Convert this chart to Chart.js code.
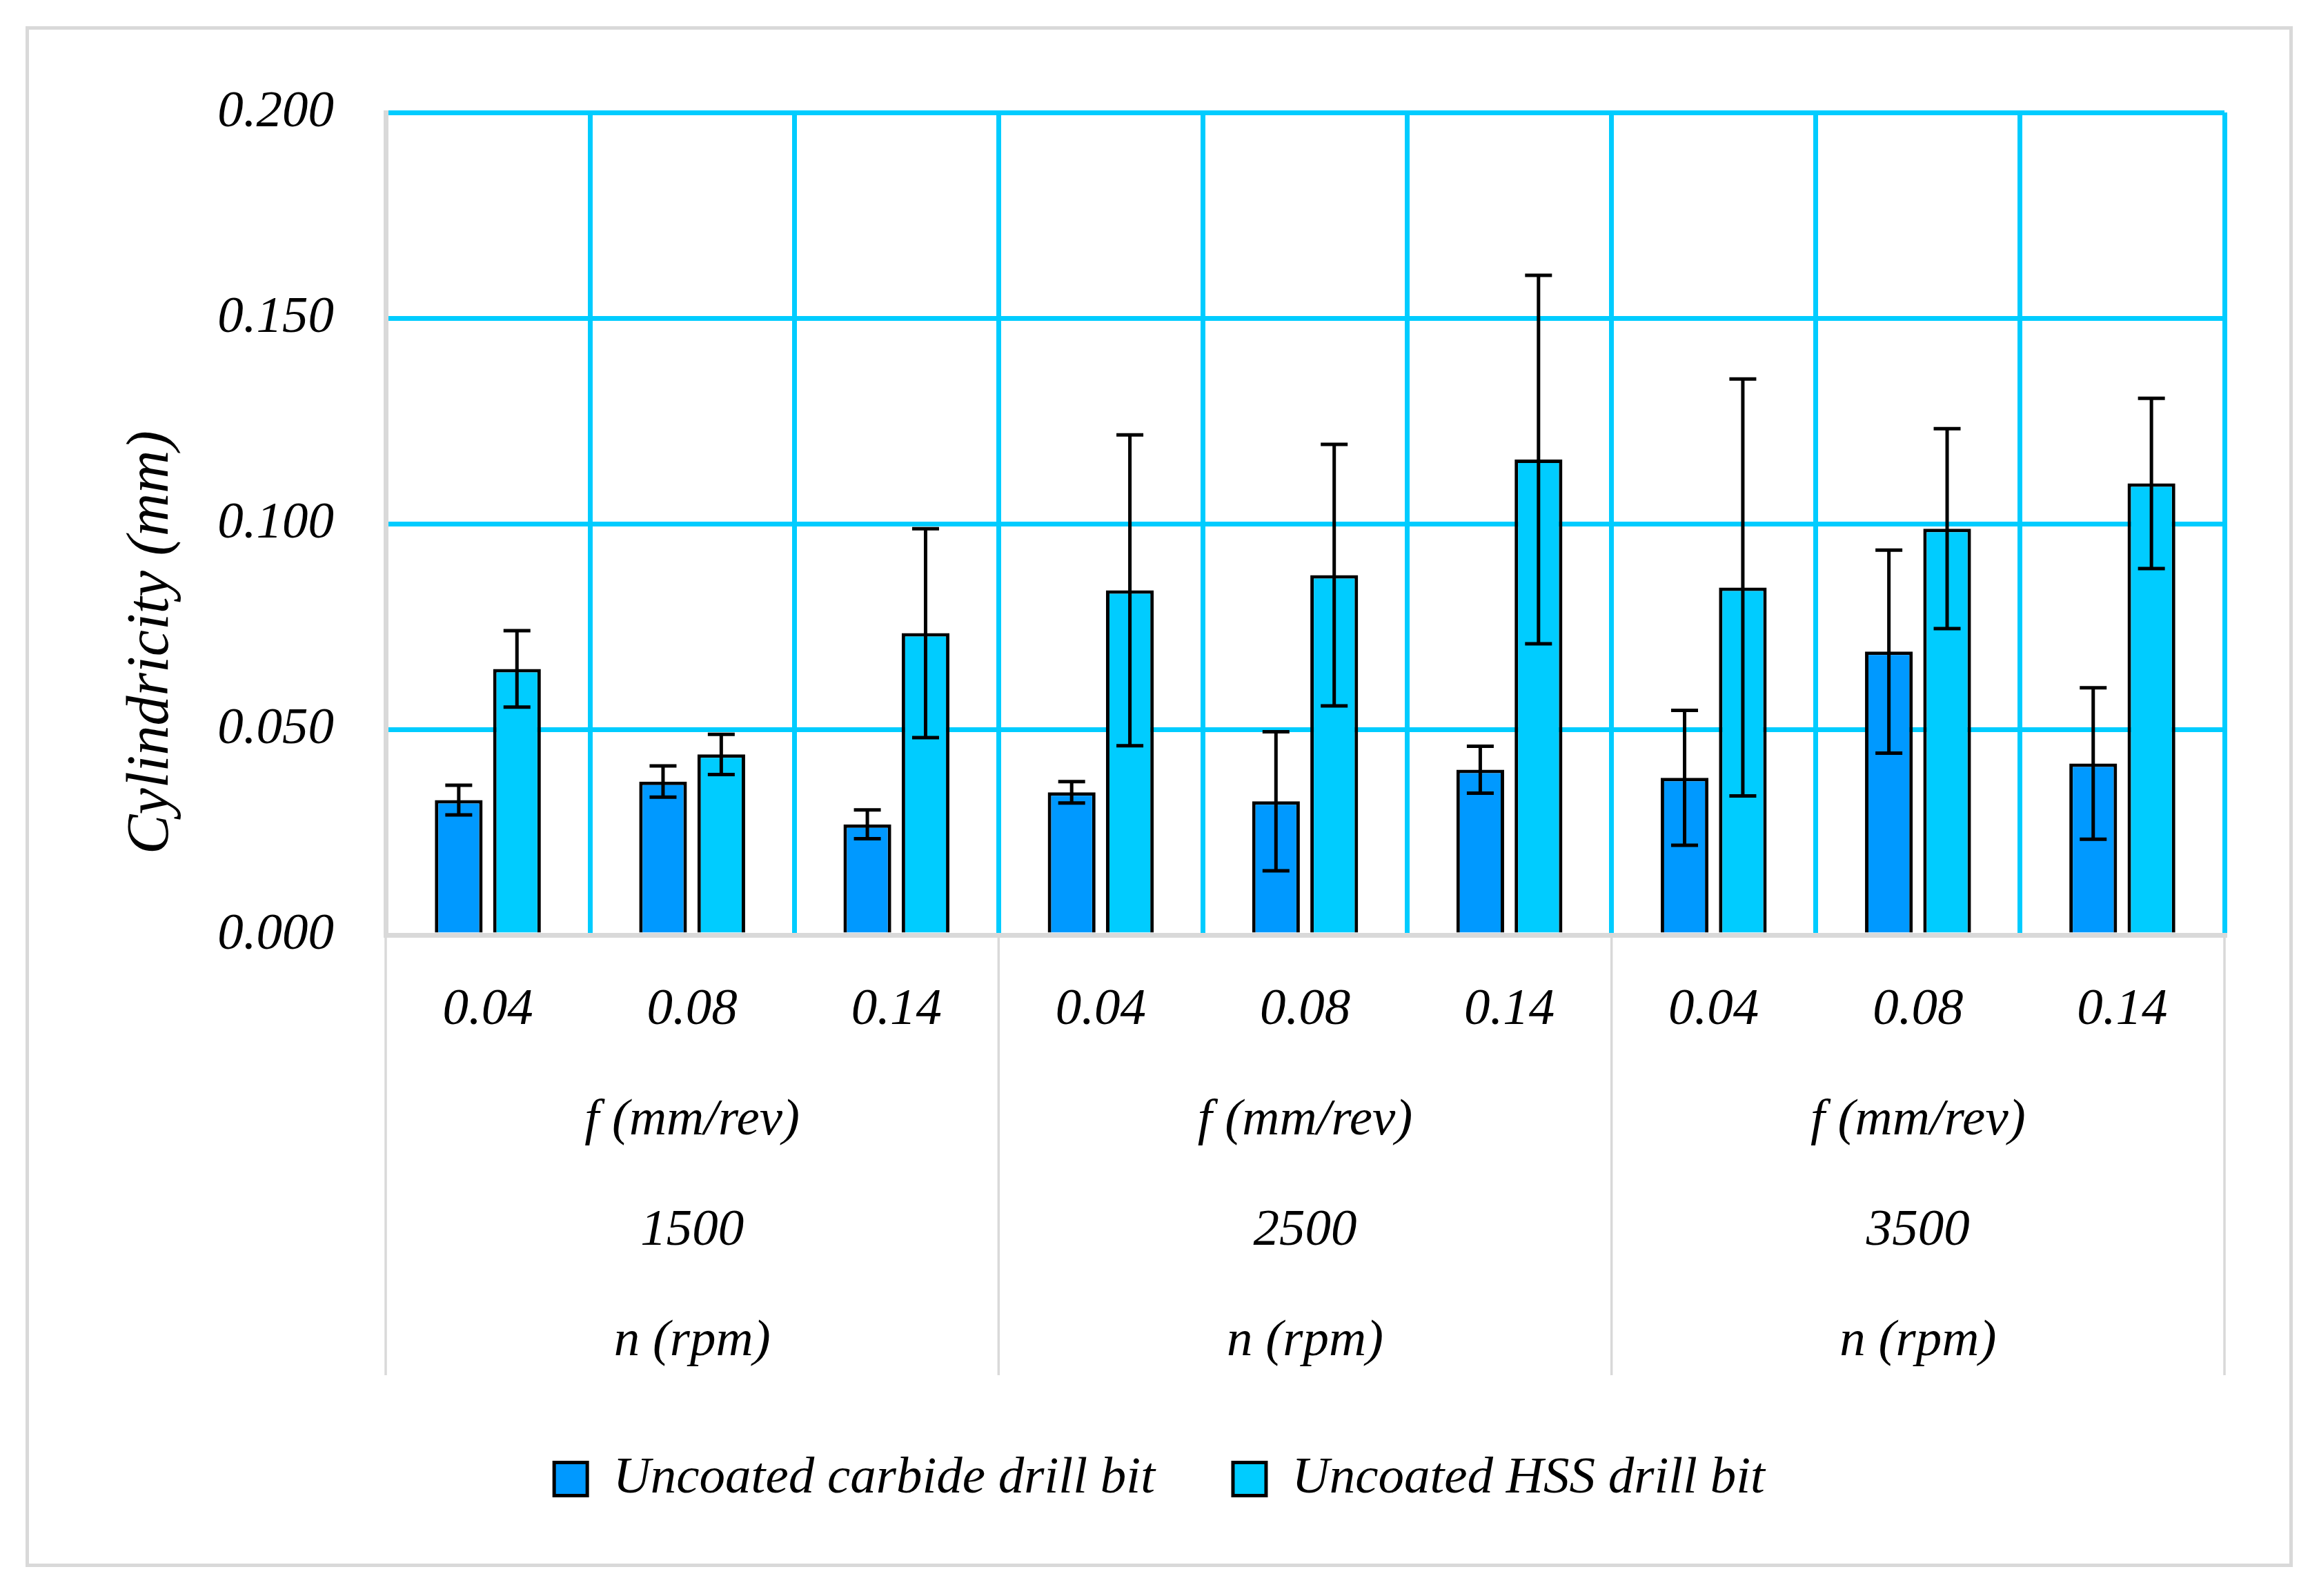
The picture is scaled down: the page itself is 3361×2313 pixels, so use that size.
<!DOCTYPE html>
<html>
<head>
<meta charset="utf-8">
<script src="https://cdn.jsdelivr.net/npm/chart.js@4.4.1/dist/chart.umd.min.js"></script>
<style>
  body { margin: 0; background: #fff; }
  canvas { position: absolute; left: 0; top: 0; }
  #frame { position: absolute; left: 37px; top: 38px; width: 3276px; height: 2223px; border: 5px solid #d9d9d9; pointer-events: none; }
</style>
</head>
<body>
<canvas id="chart" width="3361" height="2313"></canvas>
<div id="frame"></div>
<script>
// Categories
const feedRates = ["0.04", "0.08", "0.14"];
const spindleSpeeds = ["1500", "2500", "3500"];

// Cylindricity (mm)
const carbide = [0.0328, 0.0373, 0.0269, 0.0347, 0.0325, 0.0402, 0.0382, 0.0689, 0.0417];
const carbideErr = [0.0036, 0.0038, 0.0035, 0.0026, 0.0169, 0.0057, 0.0164, 0.0247, 0.0184];
const hss = [0.0647, 0.0439, 0.0734, 0.0838, 0.0875, 0.1156, 0.0845, 0.0988, 0.1098];
const hssErr = [0.0093, 0.0049, 0.0254, 0.0378, 0.0318, 0.0448, 0.0507, 0.0243, 0.0207];

// x labels: feed on every bar group, speed block under the middle one
const labels = [];
spindleSpeeds.forEach(n => {
  feedRates.forEach((f, j) => {
    labels.push(j === 1 ? [f, "f (mm/rev)", n, "n (rpm)"] : [f]);
  });
});

const FONT = "'Liberation Serif', 'DejaVu Serif', serif";
const CYAN = "#00ccff";
const GRAY = "#d9d9d9";

Chart.defaults.color = "#000";
Chart.defaults.font.family = FONT;
Chart.defaults.font.style = "italic";

// error bars drawn from the y scale
const errorBars = {
  id: "errorBars",
  afterDatasetsDraw(chart) {
    const ctx = chart.ctx;
    const y = chart.scales.y;
    ctx.save();
    ctx.strokeStyle = "#000";
    ctx.lineWidth = 5;
    chart.data.datasets.forEach((ds, di) => {
      const meta = chart.getDatasetMeta(di);
      meta.data.forEach((bar, i) => {
        const v = ds.data[i], e = ds.errors[i];
        const top = y.getPixelForValue(v + e);
        const bot = y.getPixelForValue(v - e);
        const cap = 19.5;
        ctx.beginPath();
        ctx.moveTo(bar.x, top); ctx.lineTo(bar.x, bot);
        ctx.moveTo(bar.x - cap, top); ctx.lineTo(bar.x + cap, top);
        ctx.moveTo(bar.x - cap, bot); ctx.lineTo(bar.x + cap, bot);
        ctx.stroke();
      });
    });
    ctx.restore();
  }
};

// gray separators between the speed groups, under the axis
const groupLines = {
  id: "groupLines",
  afterDraw(chart) {
    const ctx = chart.ctx;
    const x = chart.scales.x;
    ctx.save();
    ctx.strokeStyle = GRAY;
    ctx.lineWidth = 3.5;
    for (let g = 0; g <= spindleSpeeds.length; g++) {
      const px = x.getPixelForValue(g * feedRates.length - 0.5);
      ctx.beginPath();
      ctx.moveTo(px, x.top + 3);
      ctx.lineTo(px, x.bottom);
      ctx.stroke();
    }
    ctx.restore();
  }
};

new Chart(document.getElementById("chart"), {
  type: "bar",
  data: {
    labels: labels,
    datasets: [
      {
        label: "Uncoated carbide drill bit",
        data: carbide,
        errors: carbideErr,
        backgroundColor: "#0099ff",
        borderColor: "#000",
        borderWidth: 5,
        categoryPercentage: 0.57,
        barPercentage: 0.82,
      },
      {
        label: "Uncoated HSS drill bit",
        data: hss,
        errors: hssErr,
        backgroundColor: CYAN,
        borderColor: "#000",
        borderWidth: 5,
        categoryPercentage: 0.57,
        barPercentage: 0.82,
      },
    ],
  },
  options: {
    responsive: false,
    devicePixelRatio: 1,
    animation: false,
    layout: { padding: { left: 137, right: 137, top: 163, bottom: 122 } },
    plugins: {
      tooltip: { enabled: false },
      legend: {
        position: "bottom",
        labels: {
          boxWidth: 48,
          boxHeight: 48,
          padding: 113,
          font: { size: 75, style: "italic" },
        },
      },
    },
    scales: {
      x: {
        afterFit(scale) { scale.height = 638; },
        grid: { color: CYAN, lineWidth: 7, drawTicks: false, offset: true },
        border: { color: GRAY, width: 7 },
        ticks: {
          autoSkip: false,
          maxRotation: 0,
          minRotation: 0,
          padding: 29,
          font: { size: 75, style: "italic", lineHeight: "160px" },
        },
      },
      y: {
        min: 0,
        max: 0.2,
        afterFit(scale) { scale.width = 422; },
        grid: { color: CYAN, lineWidth: 7, drawTicks: false },
        border: { color: GRAY, width: 7 },
        ticks: {
          stepSize: 0.05,
          padding: 75,
          font: { size: 75, style: "italic" },
          callback: v => v.toFixed(3),
        },
        title: {
          display: true,
          text: "Cylindricity (mm)\u2003\u2003\u2003\u2003",
          padding: { top: 32, bottom: 0 },
          font: { size: 86, style: "italic" },
        },
      },
    },
  },
  plugins: [errorBars, groupLines],
});
</script>
</body>
</html>
